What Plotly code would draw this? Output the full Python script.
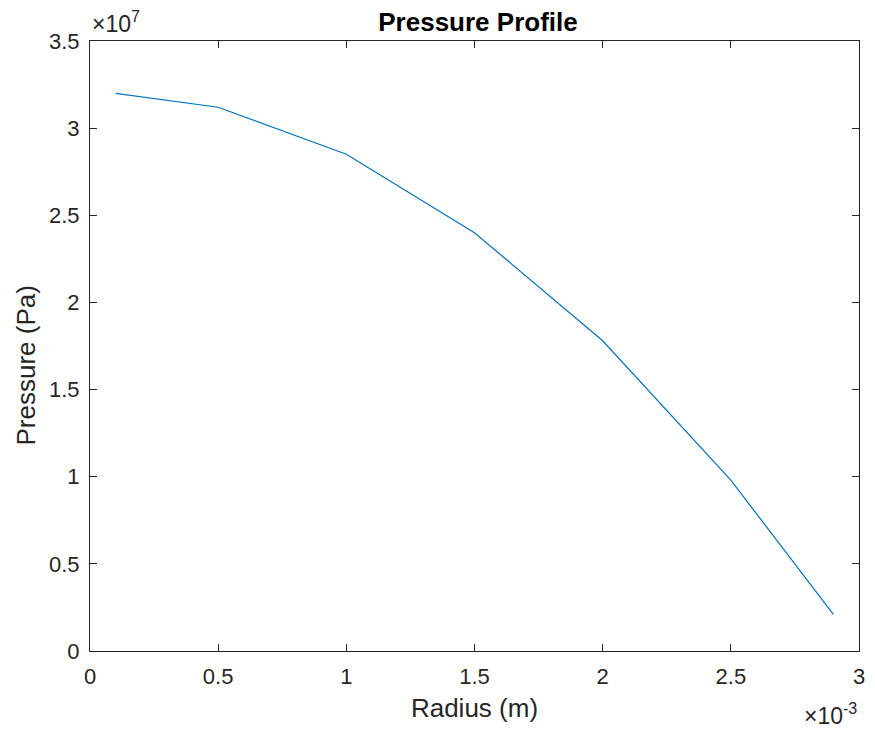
import plotly.graph_objects as go

radius = [0.0001, 0.0005, 0.0010, 0.0015, 0.0020, 0.0025, 0.0029]
pressure = [3.20e7, 3.12e7, 2.85e7, 2.40e7, 1.78e7, 0.98e7, 0.21e7]

x_tickvals = [0, 0.0005, 0.001, 0.0015, 0.002, 0.0025, 0.003]
x_ticktext = ["0", "0.5", "1", "1.5", "2", "2.5", "3"]
y_tickvals = [0, 0.5e7, 1e7, 1.5e7, 2e7, 2.5e7, 3e7, 3.5e7]
y_ticktext = ["0", "0.5", "1", "1.5", "2", "2.5", "3", "3.5"]

axcol = "#262626"
font = "Liberation Sans, Arial, sans-serif"

fig = go.Figure()
fig.add_trace(go.Scatter(x=radius, y=pressure, mode="lines",
                         line=dict(color="#0072BD", width=1.2), showlegend=False))

axis_common = dict(showgrid=False, zeroline=False, showline=True, linecolor=axcol,
                   linewidth=1, mirror="ticks", ticks="inside", ticklen=7,
                   tickcolor=axcol, tickwidth=1,
                   tickfont=dict(family=font, size=22, color=axcol))

fig.update_layout(
    width=875, height=731,
    margin=dict(l=90, r=10, t=41, b=80),
    paper_bgcolor="white", plot_bgcolor="white",
    title=dict(text="<b>Pressure Profile</b>", x=478 / 875, xanchor="center",
               y=1 - 22 / 731, yanchor="middle",
               font=dict(family=font, size=26, color="black")),
    xaxis=dict(range=[0, 0.003], tickvals=x_tickvals, ticktext=x_ticktext,
               ticklabelstandoff=6,
               title=dict(text="Radius (m)", font=dict(family=font, size=26, color=axcol),
                          standoff=10),
               **axis_common),
    yaxis=dict(range=[0, 3.5e7], tickvals=y_tickvals, ticktext=y_ticktext,
               ticklabelstandoff=5,
               **axis_common),
    annotations=[
        dict(text="Pressure (Pa)", xref="paper", yref="paper",
             x=(25 - 90) / 775, y=(651 - 366) / 610, textangle=-90,
             xanchor="center", yanchor="middle", showarrow=False,
             font=dict(family=font, size=26, color=axcol)),
        dict(text="×10<sup>7</sup>", xref="paper", yref="paper", x=0, y=1,
             xanchor="left", yanchor="bottom", yshift=2, showarrow=False,
             font=dict(family=font, size=23, color=axcol)),
        dict(text="×10<sup>-3</sup>", xref="paper", yref="paper", x=1, y=0,
             xanchor="right", yanchor="top", yshift=-46, showarrow=False,
             font=dict(family=font, size=23, color=axcol)),
    ],
)

fig.write_html("out.html")
